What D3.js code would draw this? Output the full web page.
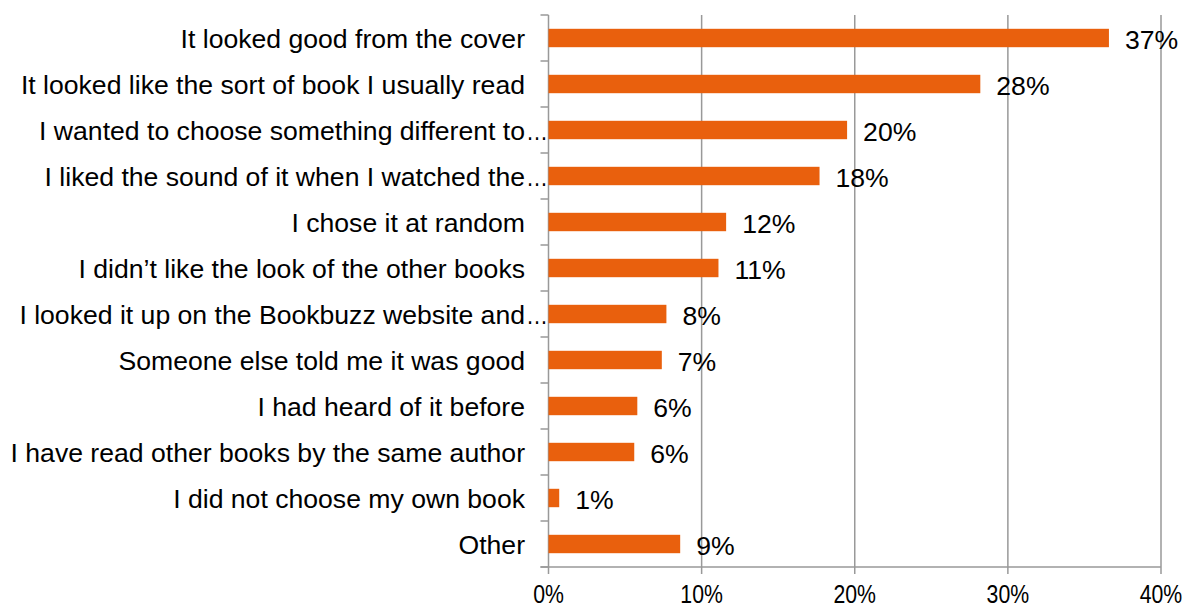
<!DOCTYPE html>
<html>
<head>
<meta charset="utf-8">
<script src="https://cdn.jsdelivr.net/npm/d3@7"></script>
<style>
  html, body { margin: 0; padding: 0; background: #fff; }
  svg { display: block; }
  text { font-family: "Liberation Sans", Arial, sans-serif; fill: #000; }
</style>
</head>
<body>
<svg id="chart" width="1190" height="608"></svg>
<script>
// Reasons for choosing a book (share of respondents)
const categories = [
  "It looked good from the cover",
  "It looked like the sort of book I usually read",
  "I wanted to choose something different to…",
  "I liked the sound of it when I watched the…",
  "I chose it at random",
  "I didn’t like the look of the other books",
  "I looked it up on the Bookbuzz website and…",
  "Someone else told me it was good",
  "I had heard of it before",
  "I have read other books by the same author",
  "I did not choose my own book",
  "Other"
];
const values = [36.6, 28.2, 19.5, 17.7, 11.6, 11.1, 7.7, 7.4, 5.8, 5.6, 0.7, 8.6];
const xTicks = [0, 10, 20, 30, 40];

const svg = d3.select("#chart");
const margin = { left: 548.5, top: 15, right: 29, bottom: 41 };
const W = 1190, H = 608;
const innerRight = W - margin.right;
const innerBottom = H - margin.bottom;
const fontSize = 26.6;

const x = d3.scaleLinear().domain([0, 40]).range([margin.left, innerRight]);
const y = d3.scaleBand()
  .domain(categories)
  .range([margin.top, innerBottom])
  .paddingInner(0.6)
  .paddingOuter(0.3);

const gridColor = "#999";

// Vertical gridlines, extending below the baseline as tick marks
svg.append("g")
  .selectAll("line")
  .data(xTicks.slice(1))
  .join("line")
  .attr("x1", d => x(d)).attr("x2", d => x(d))
  .attr("y1", margin.top).attr("y2", innerBottom + 7)
  .attr("stroke", gridColor).attr("stroke-width", 1.5);

// Bottom axis line and the 0% tick
svg.append("line")
  .attr("x1", margin.left - 8).attr("x2", innerRight)
  .attr("y1", innerBottom).attr("y2", innerBottom)
  .attr("stroke", gridColor).attr("stroke-width", 1.5);
svg.append("line")
  .attr("x1", margin.left).attr("x2", margin.left)
  .attr("y1", margin.top).attr("y2", innerBottom + 7)
  .attr("stroke", gridColor).attr("stroke-width", 1.5);

// Category boundary ticks on the left axis
const step = y.step();
const boundaries = d3.range(categories.length + 1).map(i => margin.top + i * step);
svg.append("g")
  .selectAll("line")
  .data(boundaries)
  .join("line")
  .attr("x1", margin.left - 8).attr("x2", margin.left)
  .attr("y1", d => d).attr("y2", d => d)
  .attr("stroke", gridColor).attr("stroke-width", 1.5);

// Bars
svg.append("g")
  .selectAll("rect")
  .data(values)
  .join("rect")
  .attr("x", x(0))
  .attr("y", (d, i) => y(categories[i]))
  .attr("width", d => x(d) - x(0))
  .attr("height", y.bandwidth())
  .attr("fill", "#E9600D");

// Value labels
svg.append("g")
  .selectAll("text")
  .data(values)
  .join("text")
  .attr("x", d => x(d) + 16)
  .attr("y", (d, i) => y(categories[i]) + y.bandwidth() / 2 + 1.5)
  .attr("dominant-baseline", "central")
  .attr("font-size", fontSize)
  .text(d => Math.round(d) + "%");

// Category labels; a trailing ellipsis hangs past the label column
const labelX = 525;
const lab = svg.append("g");
categories.forEach((c, i) => {
  const cy = y(c) + y.bandwidth() / 2 + 0.5;
  const truncated = c.endsWith("…");
  const main = truncated ? c.slice(0, -1) : c;
  lab.append("text")
    .attr("x", labelX).attr("y", cy)
    .attr("text-anchor", "end")
    .attr("dominant-baseline", "central")
    .attr("font-size", fontSize)
    .text(main);
  if (truncated) {
    lab.append("text")
      .attr("x", labelX + 1).attr("y", cy)
      .attr("dominant-baseline", "central")
      .attr("font-size", fontSize)
      .attr("textLength", 22)
      .attr("lengthAdjust", "spacingAndGlyphs")
      .text("…");
  }
});

// X tick labels (slightly condensed)
svg.append("g")
  .selectAll("text")
  .data(xTicks)
  .join("text")
  .attr("transform", d => `translate(${x(d)},${innerBottom + 35.5}) scale(0.85,1)`)
  .attr("text-anchor", "middle")
  .attr("font-size", 25)
  .text(d => d + "%");
</script>
</body>
</html>
